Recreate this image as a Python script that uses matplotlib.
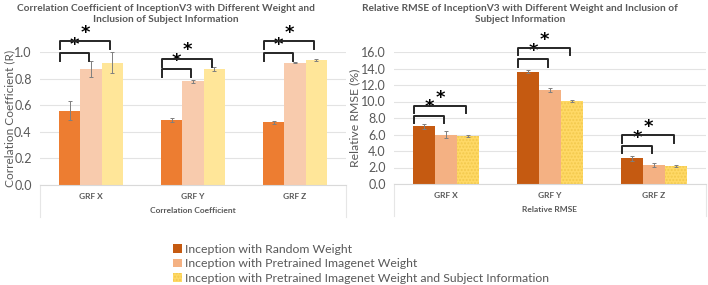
import matplotlib.pyplot as plt
import numpy as np

plt.rcParams['font.family'] = ['Lato', 'DejaVu Sans']

groups = ['GRF X', 'GRF Y', 'GRF Z']
series = ['Inception with Random Weight',
          'Inception with Pretrained Imagenet Weight',
          'Inception with Pretrained Imagenet Weight and Subject Information']

# correlation coefficient (R)
r_mean = [[0.56, 0.49, 0.47],
          [0.87, 0.78, 0.92],
          [0.92, 0.87, 0.94]]
r_err = [[0.07, 0.015, 0.01],
         [0.06, 0.01, 0.005],
         [0.08, 0.015, 0.006]]

# relative RMSE (%)
rmse_mean = [[7.0, 13.6, 3.1],
             [6.0, 11.4, 2.3],
             [5.8, 10.1, 2.2]]
rmse_err = [[0.3, 0.2, 0.3],
            [0.4, 0.25, 0.2],
            [0.15, 0.1, 0.1]]

# significance brackets: (inner top, outer top) per group
r_brackets = [(0.99, 1.08), (0.87, 0.95), (0.99, 1.08)]
rmse_brackets = [(8.3, 9.45), (15.1, 16.5), (4.6, 5.9)]

left_colors = ['#ED7D31', '#F8CBAD', '#FFE699']
right_colors = ['#C55A11', '#F4B183', '#FFD966']

W, H = 708, 285
fig = plt.figure(figsize=(W / 100, H / 100), dpi=100)

def px_axes(x0, x1, ytop, ybot):
    return fig.add_axes([x0 / W, 1 - ybot / H, (x1 - x0) / W, (ybot - ytop) / H])

ax1 = px_axes(40, 346, 52, 185)
ax2 = px_axes(394, 706, 52, 184)

bw = 0.21
x = np.arange(len(groups))
grey = '#595959'


def draw(ax, means, errs, colors, ymax, step, brackets, drop, hatch_last):
    for i in range(3):
        kw = dict(color=colors[i], linewidth=0)
        if hatch_last and i == 2:
            kw = dict(facecolor=colors[i], edgecolor='#F2C94C', hatch='.....', linewidth=0)
        ax.bar(x + (i - 1) * bw, means[i], bw, **kw, zorder=2,
               label=series[i])
        ax.errorbar(x + (i - 1) * bw, means[i], yerr=errs[i], fmt='none',
                    ecolor='#7f7f7f', elinewidth=0.7, capsize=1.5, capthick=0.7, zorder=3)
    ax.set_xlim(-0.5, 2.5)
    ax.set_ylim(0, ymax)
    ticks = np.arange(0, ymax + 1e-9, step)
    ax.set_yticks(ticks)
    ax.set_yticklabels(['{:.1f}'.format(t) for t in ticks], fontsize=9, color=grey)
    ax.yaxis.grid(True, color='#E3E3E3', linewidth=0.8, zorder=0)
    ax.set_axisbelow(True)
    for s in ['top', 'right', 'left']:
        ax.spines[s].set_visible(False)
    ax.spines['bottom'].set_color('#D9D9D9')
    ax.tick_params(axis='both', length=0)
    ax.tick_params(axis='y', pad=6)
    ax.set_xticks(x)
    ax.set_xticklabels(groups, fontsize=6, color=grey, fontweight='bold')
    ax.tick_params(axis='x', pad=6)
    # brackets
    for g in range(3):
        x0 = x[g] - bw - 0.45 * bw
        for k, top in enumerate(brackets[g]):
            x1 = x[g] + (k * bw) - 0.1 * bw
            ax.plot([x0, x0, x1, x1], [top - drop, top, top, top - drop],
                    color='#262626', linewidth=1.4, clip_on=False, zorder=4)
            ax.annotate('*', ((x0 + x1) / 2, top), xytext=(0, 6), textcoords='offset points',
                        ha='center', va='center', fontsize=13, fontweight='bold',
                        color='black', family='DejaVu Sans', annotation_clip=False)
    # faint category frame lines
    for xe in (0, 1):
        ax.plot([xe, xe], [0, -0.24], transform=ax.transAxes, color='#E6E6E6',
                linewidth=0.8, clip_on=False)


draw(ax1, r_mean, r_err, left_colors, 1.0, 0.2, r_brackets, 0.06, False)
draw(ax2, rmse_mean, rmse_err, right_colors, 16.0, 2.0, rmse_brackets, 0.9, True)

ax1.set_ylabel('Correlation Coefficient (R)', fontsize=8.6, color=grey)
ax1.yaxis.set_label_coords(-0.08, 0.5)
ax2.set_ylabel('Relative RMSE (%)', fontsize=8.8, color=grey)
ax2.yaxis.set_label_coords(-0.108, 0.5)
ax1.set_xlabel('Correlation Coefficient', fontsize=6, color=grey, fontweight='bold', labelpad=5)
ax2.set_xlabel('Relative RMSE', fontsize=6, color=grey, fontweight='bold', labelpad=5)

fig.text(166 / W, 1 - 14 / H,
         'Correlation Coefficient of InceptionV3 with Different Weight and\nInclusion of Subject Information',
         ha='center', va='center', fontsize=7.3, fontweight='bold', color=grey, linespacing=1.3)
fig.text(520 / W, 1 - 14 / H,
         'Relative RMSE of InceptionV3 with Different Weight and Inclusion of\nSubject Information',
         ha='center', va='center', fontsize=7.3, fontweight='bold', color=grey, linespacing=1.3)

handles, labels = ax2.get_legend_handles_labels()
fig.legend(handles, labels, loc='upper left', bbox_to_anchor=(173 / W, 1 - 244 / H),
           frameon=False, fontsize=8.8, labelcolor=grey, handlelength=0.7, handleheight=0.7,
           handletextpad=0.3, labelspacing=0.28, borderaxespad=0, borderpad=0)

fig.savefig('out.png', dpi=100)
